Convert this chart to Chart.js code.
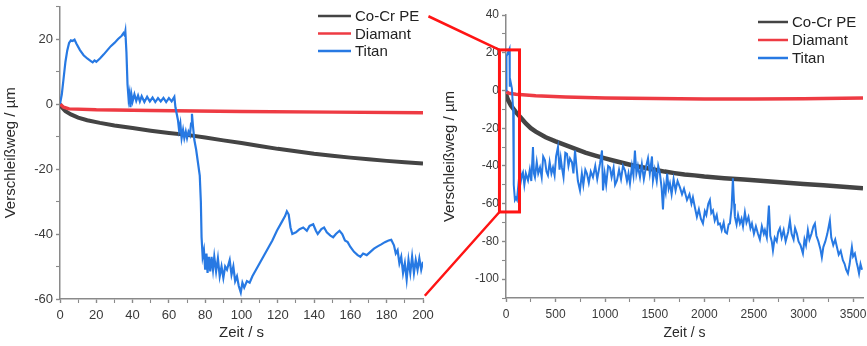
<!DOCTYPE html>
<html>
<head>
<meta charset="utf-8">
<script src="https://cdn.jsdelivr.net/npm/chart.js@4.4.0/dist/chart.umd.min.js"></script>
<style>
  html, body { margin: 0; padding: 0; background: #fff; }
  #wrap { position: relative; width: 867px; height: 346px; overflow: hidden; }
  canvas { position: absolute; top: 0; }
  #left { left: 0; }
  #right { left: 440px; }
  #overlay { left: 0; pointer-events: none; }
</style>
</head>
<body>
<div id="wrap">
  <canvas id="left" width="440" height="346"></canvas>
  <canvas id="right" width="427" height="346"></canvas>
  <canvas id="overlay" width="867" height="346"></canvas>
</div>
<script>
// Series names and colours (legend order)
const seriesNames = ['Co-Cr PE', 'Diamant', 'Titan'];
const seriesColors = ['#444444', '#ee3b43', '#2779e3'];

// Axis ranges: [min, max, label step, minor step]
const zoomTimeAxis = [0, 200, 20, 10];
const zoomUmAxis = [-60, 30, 20, 10];
const fullTimeAxis = [0, 3600, 500, 250];
const fullUmAxis = [-110, 40, 20, 10];

// Zoomed measurement, 0-200 s  ([time s, wear µm])
const zoomCoCr = [[0,0],[1,-1],[3,-2.2],[6,-3.2],[10,-4.2],[15,-5],[22,-5.8],[30,-6.6],[40,-7.4],[50,-8.2],
  [60,-8.9],[70,-9.5],[80,-10.3],[90,-11.2],[100,-12],[110,-12.9],[120,-13.8],[132,-14.7],[140,-15.3],
  [150,-15.9],[160,-16.5],[170,-17],[180,-17.5],[190,-17.9],[200,-18.3]];
const zoomDiamant = [[0,0],[2,-1],[5,-1.5],[20,-1.8],[50,-2],[100,-2.3],[150,-2.5],[200,-2.7]];
const zoomTitan = [[0,0],[1,3],[2,8],[3,13],[4,16.5],[5,18.8],[6,19.6],[7,19.4],[8,19.8],[9,18.6],[11,16.6],
  [13,15],[15,14],[17,13.2],[18,12.8],[19,13.4],[20,13],[22,14],[24,15.2],[26,16.5],[28,17.8],[30,18.8],
  [32,20],[34,21],[35,21.8],[35.6,21.2],[36,22.4],[36.6,16],[37.2,6],[37.8,1.5],[38.3,3.2],[38.8,-1],
  [39.4,2.8],[40,0.8],[41,3],[42,1],[43,2.6],[44,0.8],[45,2.4],[46.5,0.6],[48,2.2],[49.5,0.8],[51,2],
  [52.5,0.6],[54,1.8],[55.5,0.8],[57,1.9],[58.5,0.6],[60,1.8],[61.5,0.8],[63,2.2],[63.6,-1],[64.3,-3],
  [65,-5],[65.6,-8],[66.3,-6],[67,-10.5],[67.8,-8],[68.5,-10.5],[69.3,-8.5],[70,-10.5],[70.8,-8.5],
  [71.6,-9.5],[72.2,-6],[72.7,-3],[73.3,-7],[74,-11],[75,-14],[76,-18],[77,-22],[77.6,-30],[78,-41],
  [78.6,-47],[79.3,-45],[80,-51],[80.7,-46],[81.3,-52],[82,-47],[82.8,-51.5],[83.5,-47],[84.3,-51],
  [85,-47],[86,-51.5],[87,-47.5],[88,-53],[89,-50],[90,-53.5],[91,-50],[92,-51],[93.5,-48],[94.5,-52.5],
  [95.5,-50],[96.5,-54.5],[97.5,-53],[98.5,-56],[99.6,-58],[100.5,-55],[101.5,-56.5],[103,-54.5],
  [104.5,-55],[106,-53],[108,-51],[110,-49],[112,-47],[115,-44],[117,-42],[119.5,-39],[122,-36.5],
  [124,-34.5],[125,-33],[126,-34],[127,-38],[128,-40],[130,-39.5],[132,-38.5],[134,-38],[136,-39],
  [137.5,-37.5],[139.5,-37],[141,-39],[142,-40],[144,-38.5],[145.5,-38],[147,-39.5],[149,-40.5],
  [150.5,-41],[152,-40],[154,-39],[155.5,-40],[157,-42],[158.5,-42.5],[160,-44],[162,-45.5],[164,-46.5],
  [165.5,-47],[167,-46],[169,-46.5],[171,-45.5],[173,-44.5],[175,-43.8],[177,-43.2],[179,-42.5],
  [181,-42],[182.5,-41.8],[184,-43.5],[185,-46],[186,-45],[187,-49],[188,-47],[189,-52],[190,-49],
  [191,-54],[192,-48],[193,-52],[194,-47],[195,-52],[196,-48],[197,-51],[198,-47.5],[199,-51],[200,-48.5]];

// Full measurement, 0-3600 s
const fullCoCr = [[0,-2],[20,-5],[50,-8],[100,-11.5],[150,-14.5],[200,-17.5],[250,-20],[300,-21.8],
  [400,-24.8],[500,-27],[600,-29],[700,-31],[800,-33],[900,-34.5],[1000,-36],[1100,-37.4],[1200,-38.7],
  [1300,-40],[1400,-41],[1500,-42],[1600,-43],[1700,-43.8],[1800,-44.5],[1900,-45],[2000,-45.6],
  [2200,-46.5],[2400,-47.2],[2600,-48],[2800,-48.8],[3000,-49.6],[3200,-50.3],[3400,-51],[3600,-51.8]];
const fullDiamant = [[0,-0.5],[30,-1.5],[100,-2],[300,-2.8],[600,-3.5],[1000,-4],[1500,-4.3],[2000,-4.5],
  [2500,-4.5],[3000,-4.4],[3600,-4]];
const fullTitan = [[0,0],[5,18],[20,20],[35,22],[38,2],[45,5],[60,1],[66,-5],[72,-10],[76,-25],[80,-50],
  [90,-58],[100,-57],[110,-58],[125,-50],[141,-41],[150,-48],[160,-45],[171,-43.5],[185,-50],[200,-44],
  [222,-47.7],[240,-42],[255,-48],[272,-30],[282,-44],[292,-46],[310,-38],[325,-44],[343,-40.8],
  [360,-46],[375,-35],[393,-37],[408,-43],[423,-45],[440,-38],[458,-44],[474,-40.8],[490,-45],[505,-35],
  [524,-30],[540,-42],[552,-36],[564,-40.8],[580,-46],[598,-33],[615,-33.6],[630,-40],[645,-36],
  [665,-38],[680,-44],[696,-31.8],[710,-40],[725,-48],[746,-53],[765,-44],[780,-50],[800,-42],[816,-44],
  [835,-49],[855,-43],[877,-46],[900,-40],[920,-47],[948,-38.7],[968,-31.8],[978,-53],[995,-44],
  [1010,-50],[1030,-40],[1048,-40.8],[1065,-46],[1085,-41],[1100,-50],[1119,-47.7],[1140,-42],
  [1160,-47],[1180,-40],[1200,-42.4],[1220,-48],[1235,-44],[1250,-49.3],[1270,-40],[1285,-45],
  [1300,-31.8],[1315,-44],[1330,-40],[1351,-46],[1370,-39],[1390,-47],[1410,-41],[1432,-36],[1450,-44],
  [1472,-35],[1482,-47.7],[1500,-42],[1520,-48],[1535,-40],[1552,-44],[1570,-52],[1583,-63],[1595,-50],
  [1610,-54],[1625,-44],[1640,-52],[1653,-49.3],[1670,-55],[1690,-47],[1710,-53],[1730,-48],
  [1754,-51.4],[1775,-55],[1795,-52],[1825,-58],[1850,-55],[1870,-60],[1885,-56.7],[1905,-62],
  [1925,-67],[1945,-63],[1965,-68],[1986,-70.5],[2005,-64],[2020,-66],[2040,-60],[2056,-58],[2070,-65],
  [2087,-63.6],[2105,-69],[2125,-66],[2140,-71],[2157,-70.5],[2175,-74],[2195,-70],[2210,-75],
  [2228,-75.8],[2245,-71],[2258,-70.5],[2275,-62],[2288,-46.6],[2300,-60],[2308,-67],[2325,-71],
  [2340,-66],[2359,-70.5],[2375,-68],[2390,-72],[2409,-64.6],[2425,-70],[2445,-67],[2465,-73],
  [2480,-70.5],[2500,-76],[2520,-72],[2540,-75.8],[2560,-79],[2580,-72],[2600,-76],[2611,-74],
  [2630,-78],[2651,-61],[2665,-77],[2680,-80],[2692,-84.8],[2710,-78],[2730,-80],[2745,-75],[2762,-73],
  [2780,-78],[2800,-74],[2820,-80],[2845,-75],[2863,-68.9],[2880,-76],[2900,-79],[2915,-73],
  [2933,-75.8],[2950,-80],[2970,-82],[2994,-86.4],[3010,-79],[3025,-82],[3044,-74],[3060,-79],
  [3080,-76],[3100,-72],[3115,-70.5],[3130,-77],[3150,-80],[3170,-84],[3185,-88.5],[3200,-83],
  [3220,-80],[3240,-76],[3266,-68.9],[3280,-78],[3300,-82],[3320,-79],[3337,-83],[3355,-87],[3375,-85],
  [3397,-90],[3415,-92],[3430,-95],[3448,-97],[3465,-92],[3475,-88],[3488,-83],[3500,-88],
  [3518,-86.4],[3535,-91],[3548,-93.8],[3560,-97],[3575,-92],[3590,-95]];

// Zoom box on the full chart (data units) and where the connector lines start on the zoom chart
const zoomBox = { x0: -66, x1: 136, y0: -64.4, y1: 21.5 };
const connectorStart = [[203, 27], [201, -59]];

const FONT = '"Liberation Sans", Arial, sans-serif';
Chart.defaults.font.family = FONT;

// Legend drawn at a fixed spot inside the plot
const sideLegend = {
  id: 'sideLegend',
  afterDraw(chart, args, opts) {
    const ctx = chart.ctx;
    ctx.save();
    ctx.font = '15px ' + FONT;
    ctx.textBaseline = 'middle';
    chart.data.datasets.forEach((ds, i) => {
      const y = opts.y + i * opts.gap;
      ctx.strokeStyle = ds.borderColor;
      ctx.lineWidth = 2.5;
      ctx.beginPath();
      ctx.moveTo(opts.x, y);
      ctx.lineTo(opts.x + opts.len, y);
      ctx.stroke();
      ctx.fillStyle = '#222';
      ctx.fillText(ds.label, opts.x + opts.len + 4, y + 1);
    });
    ctx.restore();
  }
};

function makeDatasets(series, widths) {
  return series.map((pts, i) => ({
    label: seriesNames[i],
    data: pts.map(p => ({ x: p[0], y: p[1] })),
    borderColor: seriesColors[i],
    borderWidth: widths[i],
    pointRadius: 0,
    showLine: true,
    order: 3 - i
  }));
}

function makeAxis(range, pos, size, tickSize, titleText, titleSize, titlePad) {
  const horizontal = pos === 'bottom';
  return {
    type: 'linear',
    position: pos,
    min: range[0],
    max: range[1],
    border: { color: '#8a8a8a', width: 1.5 },
    grid: {
      drawOnChartArea: false,
      color: '#8a8a8a',
      tickLength: 4,
      tickWidth: c => (c.tick && c.tick.value % range[2] === 0 ? 1.4 : 1.1)
    },
    ticks: {
      stepSize: range[3],
      includeBounds: false,
      autoSkip: false,
      maxRotation: 0,
      padding: horizontal ? 5 : 3,
      color: '#3a3a3a',
      font: { size: tickSize },
      callback: v => (v % range[2] === 0 ? v : '')
    },
    title: {
      display: true,
      text: titleText,
      color: '#2a2a2a',
      font: { size: titleSize },
      padding: horizontal ? { top: 0, bottom: titlePad } : { top: titlePad, bottom: 0 }
    },
    afterFit(scale) {
      if (horizontal) {
        scale.height = size;
        scale.paddingLeft = 0;
        scale.paddingRight = 0;
      } else {
        scale.width = size;
        scale.paddingTop = 0;
        scale.paddingBottom = 0;
      }
    }
  };
}

const leftChart = new Chart(document.getElementById('left'), {
  type: 'scatter',
  data: { datasets: makeDatasets([zoomCoCr, zoomDiamant, zoomTitan], [4, 3.5, 2.2]) },
  plugins: [sideLegend],
  options: {
    responsive: false,
    animation: false,
    layout: { padding: { top: 6.5, right: 17, left: 0, bottom: 0 } },
    scales: {
      x: makeAxis(zoomTimeAxis, 'bottom', 47, 13, 'Zeit / s', 15, 4),
      y: makeAxis(zoomUmAxis, 'left', 60, 13, 'Verschleißweg / µm', 15, 2)
    },
    plugins: {
      legend: { display: false },
      tooltip: { enabled: false },
      sideLegend: { x: 318, y: 16, gap: 17.5, len: 33 }
    }
  }
});

const rightChart = new Chart(document.getElementById('right'), {
  type: 'scatter',
  data: { datasets: makeDatasets([fullCoCr, fullDiamant, fullTitan], [4.5, 3.5, 2]) },
  plugins: [sideLegend],
  options: {
    responsive: false,
    animation: false,
    layout: { padding: { top: 15, right: 4, left: 0, bottom: 0 } },
    scales: {
      x: makeAxis(fullTimeAxis, 'bottom', 48, 12, 'Zeit / s', 14, 4),
      y: makeAxis(fullUmAxis, 'left', 66, 12, 'Verschleißweg / µm', 15, 1)
    },
    plugins: {
      legend: { display: false },
      tooltip: { enabled: false },
      sideLegend: { x: 318, y: 22, gap: 18, len: 30 }
    }
  }
});

// Zoom box and connector lines, across both charts
const ov = document.getElementById('overlay').getContext('2d');
const rightLeft = 440;
const rx = v => rightLeft + rightChart.scales.x.getPixelForValue(v);
const ry = v => rightChart.scales.y.getPixelForValue(v);
const lx = v => leftChart.scales.x.getPixelForValue(v);
const ly = v => leftChart.scales.y.getPixelForValue(v);

ov.strokeStyle = '#ff1414';
ov.lineWidth = 3;
const bx0 = rx(zoomBox.x0), bx1 = rx(zoomBox.x1), by0 = ry(zoomBox.y0), by1 = ry(zoomBox.y1);
ov.strokeRect(bx0, by1, bx1 - bx0, by0 - by1);
ov.lineWidth = 2.5;
ov.beginPath();
ov.moveTo(lx(connectorStart[0][0]), ly(connectorStart[0][1]));
ov.lineTo(bx0, by1);
ov.moveTo(lx(connectorStart[1][0]), ly(connectorStart[1][1]));
ov.lineTo(bx0, by0);
ov.stroke();
</script>
</body>
</html>
